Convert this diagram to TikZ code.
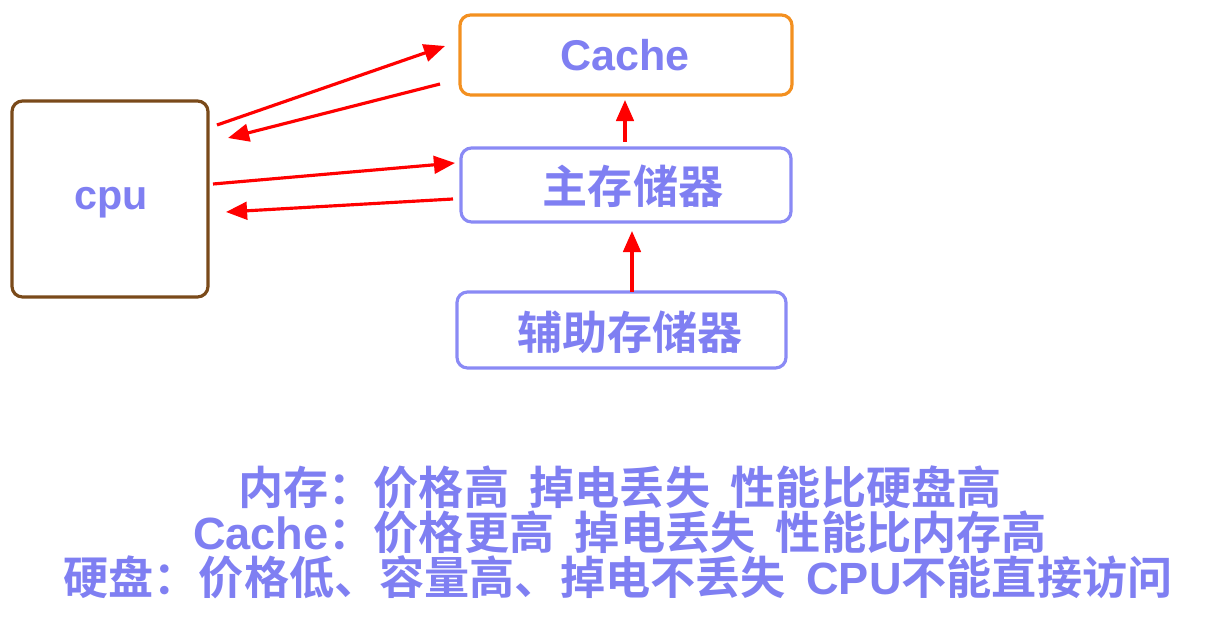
\documentclass[tikz,border=0pt]{standalone}
\usepackage{fontspec}
\newfontfamily\cjk{Noto Sans CJK SC Bold}
\newfontfamily\lab{Liberation Sans}[BoldFont=* Bold]
\usetikzlibrary{arrows.meta}
\definecolor{txt}{HTML}{7F7FF2}
\definecolor{bx}{HTML}{8A8AF5}
\definecolor{brn}{HTML}{7A4A1A}
\definecolor{org}{HTML}{F39020}
\tikzset{
 box/.style={draw, line width=1.8pt, rounded corners=6pt},
 arr/.style={draw=red, line width=1.8pt, -{Triangle[length=12pt,width=10pt]}},
 lbl/.style={text=txt, inner sep=0pt},
 zh/.style={lbl, font=\cjk\fontsize{25.7}{25.7}\selectfont}
}
\begin{document}
\begin{tikzpicture}[x=0.02cm,y=-0.02cm]
\useasboundingbox (0,0) rectangle (1208,621);
\draw[box,brn] (12,101) rectangle (208,297);
\draw[box,org] (460,15) rectangle (792,95);
\draw[box,bx] (461,148) rectangle (791,222);
\draw[box,bx] (457,292) rectangle (786,368);
\node[lbl,font=\lab\bfseries\fontsize{23.5}{23.5}\selectfont] (cpu) at (111,203) {cpu};
\node[lbl,font=\lab\bfseries\fontsize{24.5}{24.5}\selectfont] (cache) at (625,55) {Cache};
\node[zh] (main) at (633,186) {主存储器};
\node[zh] (aux) at (630,332) {辅助存储器};
\coordinate (a1) at (217,125); \coordinate (a2) at (445,46);
\coordinate (b1) at (440,84); \coordinate (b2) at (228,138);
\coordinate (c1) at (213,184); \coordinate (c2) at (455,163);
\coordinate (d1) at (453,199); \coordinate (d2) at (226,212);
\coordinate (e1) at (625,142); \coordinate (e2) at (625,100);
\coordinate (f1) at (632,292); \coordinate (f2) at (632,231);
\draw[arr] (a1) -- (a2);
\draw[arr] (b1) -- (b2);
\draw[arr] (c1) -- (c2);
\draw[arr] (d1) -- (d2);
\draw[arr] (e1) -- (e2);
\draw[arr] (f1) -- (f2);
\node[zh] (l1) at (620,487) {内存：价格高\ \ 掉电丢失\ \ 性能比硬盘高};
\node[zh] (l2) at (620,532) {{\lab\bfseries Cache}：价格更高\ \ 掉电丢失\ \ 性能比内存高};
\node[zh] (l3) at (618,577) {硬盘：价格低、容量高、掉电不丢失\ \ {\lab\bfseries CPU}不能直接访问};
\end{tikzpicture}
\end{document}
